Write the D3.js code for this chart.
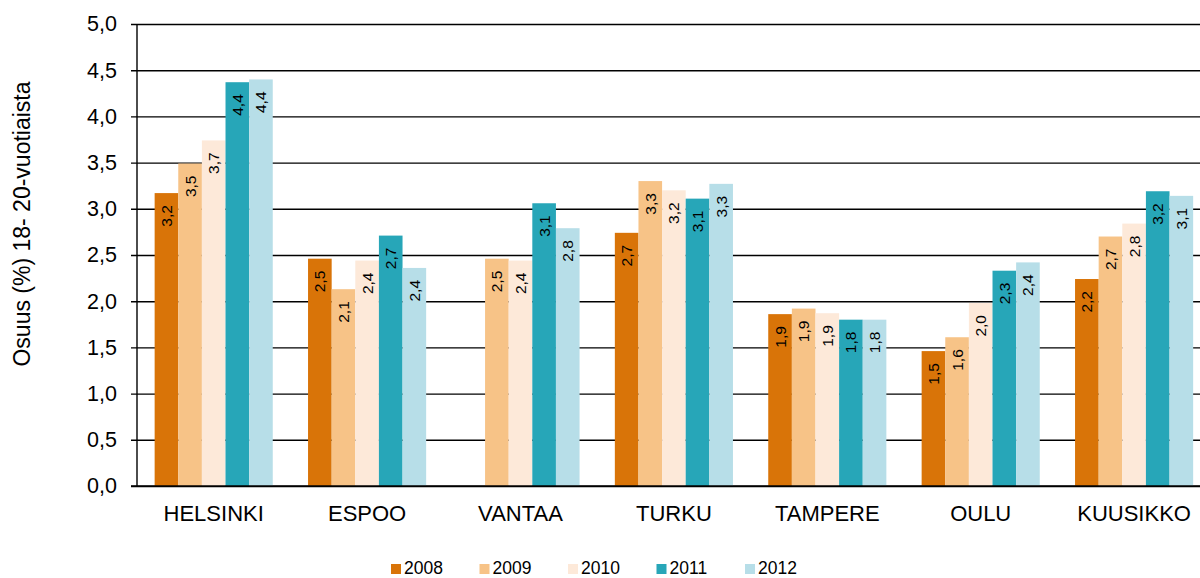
<!DOCTYPE html>
<html>
<head>
<meta charset="utf-8">
<script src="https://cdn.jsdelivr.net/npm/d3@7"></script>
<style>
  body { margin: 0; background: #fff; }
  text { font-family: "Liberation Sans", Arial, sans-serif; fill: #000; }
</style>
</head>
<body>
<div id="chart"></div>
<script>
//data
const cities = ["HELSINKI", "ESPOO", "VANTAA", "TURKU", "TAMPERE", "OULU", "KUUSIKKO"]
const years = ["2008", "2009", "2010", "2011", "2012"]
const values2008 = [3.17, 2.46, null, 2.74, 1.86, 1.46, 2.24]
const values2009 = [3.49, 2.13, 2.46, 3.30, 1.92, 1.61, 2.70]
const values2010 = [3.74, 2.44, 2.44, 3.20, 1.87, 1.98, 2.84]
const values2011 = [4.37, 2.71, 3.06, 3.11, 1.80, 2.33, 3.19]
const values2012 = [4.40, 2.36, 2.79, 3.27, 1.80, 2.42, 3.14]
const yTicks = [0, 0.5, 1, 1.5, 2, 2.5, 3, 3.5, 4, 4.5, 5]
const yTitle = "Osuus (%) 18- 20-vuotiaista"

const series = [values2008, values2009, values2010, values2011, values2012]
const colors = ["#d97408", "#f7c387", "#fde9d9", "#27a6b8", "#b7dee8"]

const width = 1200
const height = 578
const plotLeft = 137
const plotTop = 24
const plotBottom = 486

//comma as decimal separator
const fmt = v => d3.format(".1f")(v).replace(".", ",")

const yScale = d3.scaleLinear().domain([0, 5]).range([plotBottom, plotTop])

//chart is cut at the right edge, last group goes past 1200
const xScale = d3.scaleBand()
    .domain(cities)
    .range([plotLeft, plotLeft + 7 * 153.4])
    .paddingInner(0.23)
    .paddingOuter(0.115)

const xInner = d3.scaleBand().domain(years).range([0, xScale.bandwidth()])

const svg = d3.select("#chart")
    .append("svg")
    .attr("width", width)
    .attr("height", height)

//gridlines + ticks
const yAxis = d3.axisLeft(yScale)
    .tickValues(yTicks)
    .tickSize(-(width - plotLeft))
    .tickPadding(20)
    .tickFormat(fmt)

const gy = svg.append("g")
    .attr("transform", "translate(" + plotLeft + ",0)")
    .call(yAxis)
gy.select(".domain").remove()
gy.selectAll(".tick line")
    .attr("x1", -6)
    .attr("stroke", "#000")
    .attr("stroke-width", 1.4)
gy.selectAll(".tick text")
    .attr("font-size", "21.5px")
    .attr("font-family", "Liberation Sans, Arial, sans-serif")

//bars
const rows = []
cities.forEach((c, i) => {
    years.forEach((y, j) => {
        if (series[j][i] != null) rows.push({ city: c, year: y, color: colors[j], value: series[j][i] })
    })
})

const bars = svg.append("g")
bars.selectAll("rect")
    .data(rows)
    .join("rect")
    .attr("x", d => xScale(d.city) + xInner(d.year))
    .attr("y", d => yScale(d.value))
    .attr("width", xInner.bandwidth())
    .attr("height", d => plotBottom - yScale(d.value))
    .attr("fill", d => d.color)

//value labels, rotated, inside top of bar
bars.selectAll("text")
    .data(rows)
    .join("text")
    .attr("transform", d => "translate(" + (xScale(d.city) + xInner(d.year) + xInner.bandwidth() / 2) + "," + (yScale(d.value) + 12) + ") rotate(-90)")
    .attr("text-anchor", "end")
    .attr("dominant-baseline", "central")
    .attr("font-size", "15.5px")
    .text(d => fmt(d.value))

//y axis line and baseline
svg.append("line")
    .attr("x1", plotLeft).attr("x2", plotLeft)
    .attr("y1", plotTop).attr("y2", plotBottom)
    .attr("stroke", "#000").attr("stroke-width", 1.4)
svg.append("line")
    .attr("x1", plotLeft - 6).attr("x2", width)
    .attr("y1", plotBottom).attr("y2", plotBottom)
    .attr("stroke", "#000").attr("stroke-width", 1.4)

//category labels
svg.append("g")
    .selectAll("text")
    .data(cities)
    .join("text")
    .attr("x", d => xScale(d) + xScale.bandwidth() / 2)
    .attr("y", 521)
    .attr("text-anchor", "middle")
    .attr("font-size", "22px")
    .text(d => d)

//y title
svg.append("text")
    .attr("transform", "translate(22,224) rotate(-90)")
    .attr("text-anchor", "middle")
    .attr("dominant-baseline", "central")
    .attr("font-size", "23px")
    .text(yTitle)

//legend (nudged up a bit so the text stays inside the frame)
const legend = svg.append("g")
    .selectAll("g")
    .data(years)
    .join("g")
    .attr("transform", (d, i) => "translate(" + (391 + i * 88.5) + ",564)")
legend.append("rect")
    .attr("width", 10).attr("height", 10)
    .attr("fill", (d, i) => colors[i])
legend.append("text")
    .attr("x", 13)
    .attr("y", 10)
    .attr("font-size", "17.5px")
    .text(d => d)
</script>
</body>
</html>
